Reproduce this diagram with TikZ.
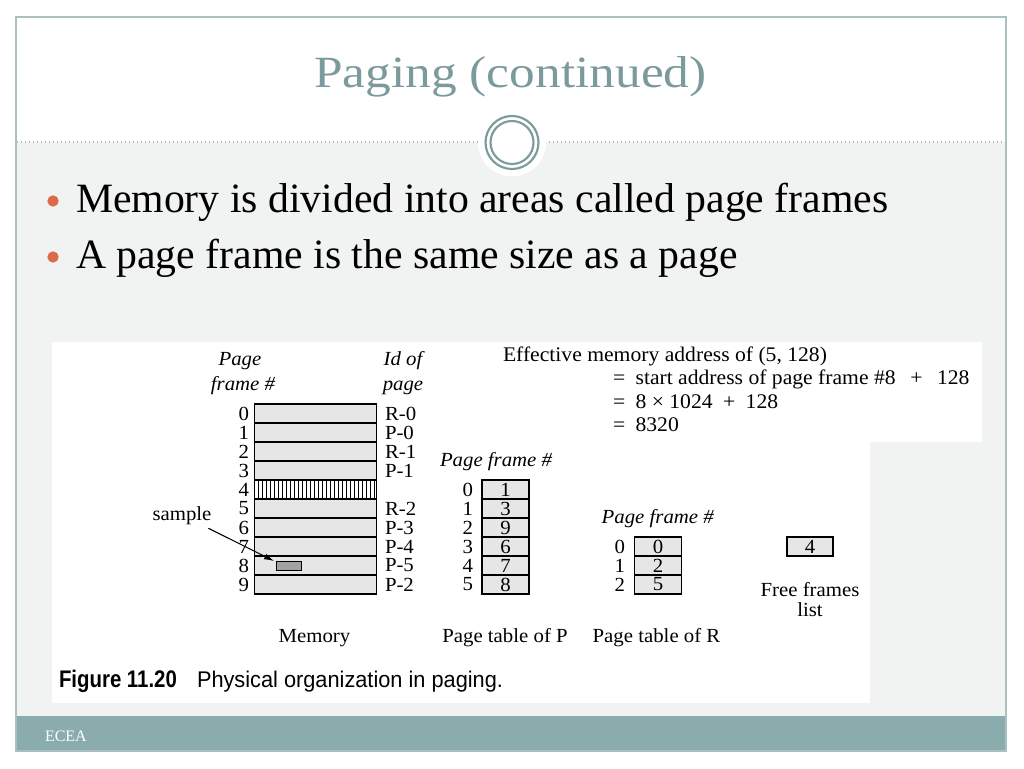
\documentclass[tikz,border=0pt]{standalone}
\usepackage{fontspec}
\setmainfont{Liberation Serif}
\newfontfamily\titlefont[FakeStretch=1.15]{Liberation Serif}
\newfontfamily\figfont[FakeStretch=1.04]{Liberation Serif}
\newfontfamily\capfont[FakeStretch=0.96]{Liberation Sans}
\newfontfamily\capbfont[FakeStretch=0.85]{Liberation Sans}
\usetikzlibrary{arrows.meta}
\definecolor{titlecol}{HTML}{7B9A9C}
\definecolor{footcol}{HTML}{8AACAD}
\definecolor{framecol}{HTML}{A9BFC0}
\definecolor{ringcol}{HTML}{7D9A9C}
\definecolor{bulletcol}{HTML}{DB6A48}
\definecolor{patbg}{HTML}{F1F2F2}
\definecolor{cellfill}{HTML}{E6E6E6}
\definecolor{smpfill}{HTML}{A2A2A2}
\newcommand\setfs[1]{\fontsize{#1}{#1}\selectfont}
\begin{document}
\begin{tikzpicture}[x=0.75pt,y=-0.75pt,
  txt/.style={inner sep=0pt, outer sep=0pt},
  fig/.style={txt, font=\figfont\setfs{15pt}},
  figi/.style={txt, font=\figfont\itshape\setfs{15pt}},
  eff/.style={txt, font=\figfont\setfs{15.6pt}, anchor=base west},
  cell/.style={draw=black, line width=0.8pt, fill=cellfill, inner sep=0pt, outer sep=0pt, minimum height=14.25pt, anchor=north west},
  memcell/.style={cell, minimum width=91.5pt},
  tabcell/.style={cell, minimum width=35.25pt, font=\figfont\setfs{15pt}},
  bul/.style={circle, fill=bulletcol, inner sep=0pt, minimum size=8.5pt}
]
\useasboundingbox (0,0) rectangle (1024,768);
\fill[white] (0,0) rectangle (1024,768);
% slide background
\fill[patbg] (16,142) rectangle (1006,716);
\fill[footcol] (16,716) rectangle (1006,751);
\draw[framecol, line width=0.8pt] (16,17) rectangle (1006,751);
% separator
\draw[framecol, line width=1pt, dotted] (17,142) -- (1005,142);
\fill[white] (512,142.5) circle (34);
\draw[ringcol, line width=1.6pt] (512,142.5) circle (26.5);
\draw[ringcol, line width=1.6pt] (512,142.5) circle (21.5);
% title
\node[txt, anchor=base, text=titlecol, font=\titlefont\setfs{33.5pt}] (title) at (510.5,87) {Paging (continued)};
% bullets
\node[bul] (b1) at (53,201) {};
\node[bul] (b2) at (53,257) {};
\node[txt, anchor=base west, font=\setfs{31.3pt}] (t1) at (76,212.7) {Memory is divided into areas called page frames};
\node[txt, anchor=base west, font=\setfs{31.3pt}] (t2) at (76,268.3) {A page frame is the same size as a page};
% figure area
\fill[white] (52,342) -- (982,342) -- (982,442) -- (870,442) -- (870,703) -- (52,703) -- cycle;
% memory
\foreach \i in {0,...,9} {
  \node[memcell] (m\i) at (254.5,{404+19*\i}) {};
  \node[fig, anchor=east] (mn\i) at (249,{413.5+19*\i}) {\i};
}
\fill[white] (m4.north west) rectangle (m4.south east);
\draw[line width=0.8pt] (m4.north west) rectangle (m4.south east);
\foreach \k in {1,...,30} \draw[line width=0.9pt] ([xshift=\k*3pt]m4.north west) -- ([xshift=\k*3pt]m4.south west);
\foreach \i/\l in {0/R-0,1/P-0,2/R-1,3/P-1,5/R-2,6/P-3,7/P-4,8/P-5,9/P-2} {
  \node[fig, anchor=west] (id\i) at (385,{413.5+19*\i}) {\l};
}
\node[figi, anchor=base] (pfa) at (240,365) {Page};
\node[figi, anchor=base] (pfb) at (243,390) {frame \#};
\node[figi, anchor=base] (ida) at (403,365) {Id of};
\node[figi, anchor=base] (idb) at (403,390) {page};
% sample
\node[draw=black, line width=0.8pt, fill=smpfill, inner sep=0pt, minimum width=18.5pt, minimum height=6.75pt, anchor=north west] (smp) at (276,561) {};
\node[fig, anchor=base] (sampl) at (182,520) {sample};
\draw[line width=0.8pt, -{Latex[length=7.5pt,width=4.5pt]}] ([shift={(-3,4)}]sampl.south east) -- ([shift={(-2,0)}]smp.north west);
% page table of P
\node[figi, anchor=base west] (pph) at (440,466) {Page frame \#};
\foreach \i/\v in {0/1,1/3,2/9,3/6,4/7,5/8} {
  \node[tabcell] (p\i) at (482,{480+19*\i}) {\v};
  \node[fig, anchor=east] (pn\i) at (473,{489.5+19*\i}) {\i};
}
% page table of R
\node[figi, anchor=base west] (prh) at (601.7,523.3) {Page frame \#};
\foreach \i/\v in {0/0,1/2,2/5} {
  \node[tabcell] (r\i) at (634.5,{537+19*\i}) {\v};
  \node[fig, anchor=east] (rn\i) at (625,{546.5+19*\i}) {\i};
}
% free frames
\node[cell, minimum width=34.5pt, font=\figfont\setfs{15pt}] (ff) at (787,537) {4};
\node[fig, anchor=base] (ffa) at (810,596.7) {Free frames};
\node[fig, anchor=base] (ffb) at (810,616.7) {list};
% bottom labels
\node[fig, anchor=base] (lm) at (314.5,642) {Memory};
\node[fig, anchor=base] (lp) at (505,642) {Page table of P};
\node[fig, anchor=base] (lr) at (656.5,642) {Page table of R};
% effective address
\node[eff] (e1) at (503,361) {Effective memory address of (5, 128)};
\node[eff] (e2) at (613,384) {=\enspace start address of page frame \#8\hspace{0.7em}+\hspace{0.7em}128};
\node[eff] (e3) at (613,408) {=\enspace 8 × 1024\enspace+\enspace128};
\node[eff] (e4) at (613,431) {=\enspace 8320};
% caption
\node[txt, anchor=base west, font=\capbfont\bfseries\setfs{18pt}] (capa) at (59,687.3) {Figure 11.20};
\node[txt, anchor=base west, font=\capfont\setfs{17pt}] (capb) at (197,687.3) {Physical organization in paging.};
% footer
\node[txt, anchor=base west, text=white, font=\setfs{12pt}] (foot) at (45,741) {ECEA};
\end{tikzpicture}
\end{document}
